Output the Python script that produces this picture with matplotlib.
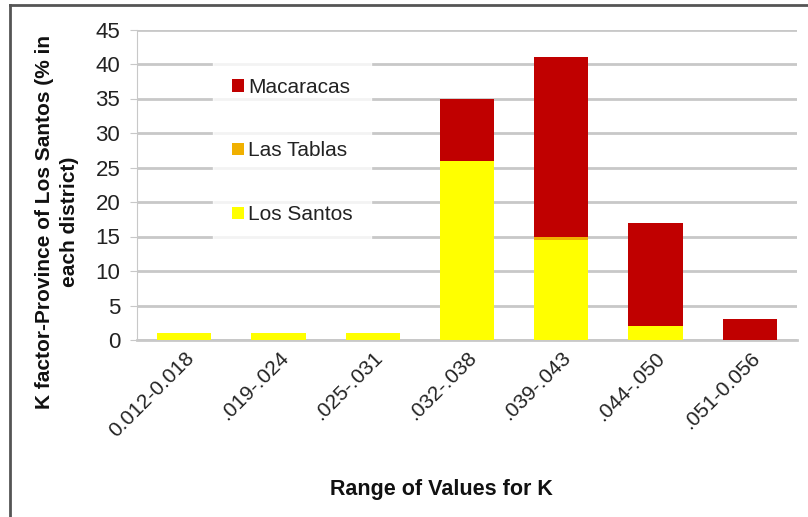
import matplotlib.pyplot as plt
import numpy as np
from matplotlib.lines import Line2D

plt.rcParams['font.family'] = ['Liberation Sans', 'DejaVu Sans']

# data
categories = ['0.012-0.018', '.019-.024', '.025-.031', '.032-.038',
              '.039-.043', '.044-.050', '.051-0.056']
los_santos = [1, 1, 1, 26, 14.5, 2, 0]
las_tablas = [0, 0, 0, 0, 0.5, 0, 0]
macaracas = [0, 0, 0, 9, 26, 15, 3]
yticks = [0, 5, 10, 15, 20, 25, 30, 35, 40, 45]

c_santos = '#FFFF00'
c_tablas = '#F0B000'
c_maca = '#C00000'

W, H = 808, 517
fig = plt.figure(figsize=(W / 100, H / 100), dpi=100)
ax = fig.add_axes([137/W, 1 - 340/H, 660/W, 310.5/H])

x = np.arange(len(categories))
w = 0.575
b1 = ax.bar(x, los_santos, w, color=c_santos, label='Los Santos', zorder=3)
bottom2 = np.array(los_santos)
b2 = ax.bar(x, las_tablas, w, bottom=bottom2, color=c_tablas, label='Las Tablas', zorder=3)
bottom3 = bottom2 + np.array(las_tablas)
b3 = ax.bar(x, macaracas, w, bottom=bottom3, color=c_maca, label='Macaracas', zorder=3)

ax.set_xlim(-0.5, len(categories) - 0.5)
ax.set_ylim(0, 45)
ax.set_yticks(yticks)
ax.yaxis.grid(True, color='#c8c8c8', linewidth=2, zorder=0)
ax.set_axisbelow(True)

for s in ['top', 'right']:
    ax.spines[s].set_visible(False)
ax.spines['left'].set_color('#c8c8c8')
ax.spines['bottom'].set_color('#c8c8c8')
ax.spines['bottom'].set_linewidth(2)
ax.tick_params(axis='y', length=5, color='#c8c8c8', labelsize=16, labelcolor='#222222', pad=7)
ax.tick_params(axis='x', length=0, labelsize=15, labelcolor='#222222', pad=6)

ax.set_xticks(x)
ax.set_xticklabels(categories, rotation=45, ha='right', rotation_mode='anchor')

# axis titles placed by hand like the reference
fig.text(57/W, 1 - 222/H, 'K factor-Province of Los Santos (% in\neach district)',
         rotation=90, ha='center', va='center', multialignment='center',
         fontsize=15, fontweight='bold', color='#111111', linespacing=1.35)
fig.text(441/W, 1 - 490/H, 'Range of Values for K', ha='center', va='center',
         fontsize=15.5, fontweight='bold', color='#111111')

leg = ax.legend(handles=[b3, b2, b1], loc='upper left',
                bbox_to_anchor=(66/660, 1 - 19/310.5), frameon=True,
                fontsize=15, labelspacing=2.15, handlelength=0.55,
                handleheight=0.55, handletextpad=0.2, borderpad=0.9,
                fancybox=False)
leg.get_frame().set_facecolor('white')
leg.get_frame().set_edgecolor('white')
for t in leg.get_texts():
    t.set_color('#222222')

# outer frame of the picture (top and left only)
fig.add_artist(Line2D([10/W, 1], [1 - 5/H, 1 - 5/H], color='#555555', linewidth=2))
fig.add_artist(Line2D([10/W, 10/W], [0, 1 - 5/H], color='#555555', linewidth=2))

fig.savefig('out.png', dpi=100)
